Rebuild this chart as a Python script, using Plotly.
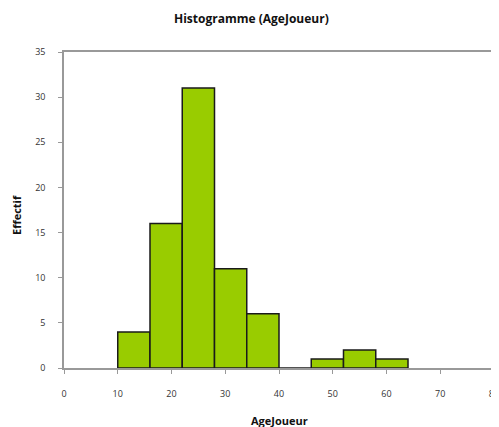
import plotly.graph_objects as go

bin_edges = [10, 16, 22, 28, 34, 40, 46, 52, 58, 64]
counts = [4, 16, 31, 11, 6, 0, 1, 2, 1]
x_ticks = [0, 10, 20, 30, 40, 50, 60, 70, 80]
y_ticks = [0, 5, 10, 15, 20, 25, 30, 35]

centers = [(a + b) / 2 for a, b in zip(bin_edges[:-1], bin_edges[1:])]
widths = [b - a for a, b in zip(bin_edges[:-1], bin_edges[1:])]

font_family = "Open Sans, Liberation Sans, sans-serif"
OFF = 8  # page body margin
W, H = 499 - OFF, 427 - OFF
L, R, T, B = 64 - OFF, 5, 52 - OFF, 427 - 368
PW, PH = W - L - R, H - T - B


def px(xw):
    return (xw - OFF - L) / PW


def py(yw):
    return (H - B - (yw - OFF)) / PH


fig = go.Figure(go.Bar(
    x=centers, y=counts, width=widths,
    marker=dict(color="#99CC00", line=dict(color="#1a1a1a", width=1.5)),
    hoverinfo="x+y",
))

fig.update_layout(
    width=W, height=H,
    margin=dict(l=L, r=R, t=T, b=B, autoexpand=False),
    paper_bgcolor="white", plot_bgcolor="white",
    showlegend=False,
    font=dict(family=font_family, size=9, color="#333"),
    annotations=[
        dict(text="<b>Histogramme (AgeJoueur)</b>", xref="paper", yref="paper",
             x=px(251), y=py(18), xanchor="center", yanchor="middle", showarrow=False,
             font=dict(size=12, color="#111")),
        dict(text="<b>AgeJoueur</b>", xref="paper", yref="paper",
             x=px(279), y=py(420), xanchor="center", yanchor="middle", showarrow=False,
             font=dict(size=11, color="#111")),
        dict(text="<b>Effectif</b>", xref="paper", yref="paper",
             x=px(16), y=py(215), xanchor="center", yanchor="middle", showarrow=False,
             textangle=-90, font=dict(size=11, color="#111")),
    ],
)

fig.update_xaxes(
    range=[0, 80], tickvals=x_ticks, ticktext=[str(v) for v in x_ticks],
    showgrid=False, zeroline=False, automargin=False,
    showline=True, linecolor="#999", linewidth=1.5, mirror=True,
    ticks="outside", ticklen=4, tickcolor="#999",
    ticklabelstandoff=12, ticklabeloverflow="allow",
    tickfont=dict(size=9, color="#333"),
)
fig.update_yaxes(
    range=[0, 35], tickvals=y_ticks, ticktext=[str(v) for v in y_ticks],
    showgrid=False, zeroline=False, automargin=False,
    showline=True, linecolor="#999", linewidth=1.5, mirror=True,
    ticks="outside", ticklen=4, tickcolor="#999",
    ticklabelstandoff=11,
    tickfont=dict(size=9, color="#333"),
)

fig.write_html("out.html")
